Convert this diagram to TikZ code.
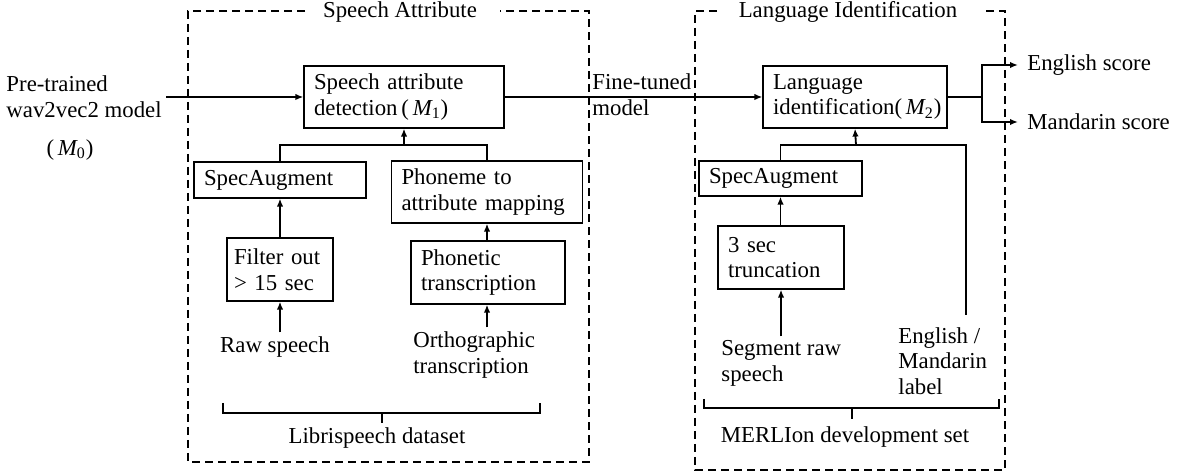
\documentclass[tikz,border=0pt]{standalone}
\usepackage{fontspec}
\setmainfont{Liberation Serif}
\usetikzlibrary{arrows.meta}
\begin{document}
\begin{tikzpicture}[x=0.5pt,y=-0.5pt,
  font=\fontsize{11.4}{12.8}\selectfont,
  box/.style={draw, line width=0.6pt, inner xsep=5pt, inner ysep=0pt, align=left},
  conn/.style={line width=0.9pt},
  arr/.style={conn, -{Latex[length=4pt,width=3.2pt]}},
  group/.style={line width=0.8pt, dash pattern=on 4pt off 2.5pt},
  lbl/.style={inner sep=2pt, align=left},
  brace/.style={line width=0.8pt}]
\useasboundingbox (0,0) rectangle (1177,474);

% ---- dashed groups with their titles
\draw[group] (305,11) -- (188,11) -- (188,462) -- (589,462) -- (589,11) -- (500,11);
\node (t1) at (400,12) {Speech Attribute};
\draw[group] (717,11) -- (695,11) -- (695,470) -- (1005,470) -- (1005,11) -- (982,11);
\node (t2) at (848,12) {Language Identification};

% ---- main models
\node[lbl, anchor=east] (pre) at (166,97) {Pre-trained\\wav2vec2 model};
\node[lbl] (m0) at (70,150) {(\,{\itshape M}\textsubscript{0})};
\node[box, minimum width=100pt, text width=90pt, minimum height=31pt] (m1) at (404,97)
  {Speech attribute\\detection\,(\,{\itshape M}\textsubscript{1})};
\node[lbl, anchor=west] (ft) at (588,95) {Fine-tuned\\model};
\node[box, minimum width=92pt, text width=82pt, minimum height=31pt] (m2) at (855,97)
  {Language\\identification(\,{\itshape M}\textsubscript{2})};
\node[lbl, anchor=west, inner xsep=4.5pt] (eng) at (1018,65) {English score};
\node[lbl, anchor=west, inner xsep=4.5pt] (man) at (1018,122) {Mandarin score};
\coordinate (sp) at (982,97);

\draw[arr] (pre.east) -- (m1.west);
\draw[arr] (m1.east) -- (m2.west);
\draw[conn] (m2.east) -- (sp);
\draw[arr] (sp) |- (eng.west);
\draw[arr] (sp) |- (man.west);

% ---- speech attribute branch
\node[box, minimum width=86pt, text width=76pt, minimum height=18pt] (sa1) at (280,180) {SpecAugment};
\node[box, minimum width=95.5pt, text width=85.5pt, minimum height=31pt] (ph) at (487,192)
  {Phoneme to\\attribute mapping};
\node[box, minimum width=53pt, text width=46pt, inner xsep=3.5pt, minimum height=31.5pt] (flt) at (280,269.5)
  {Filter out\\> 15 sec};
\node[box, minimum width=77pt, text width=67pt, minimum height=31.5pt] (pt) at (488,272.5)
  {Phonetic\\transcription};
\node[lbl] (raw) at (275,347) {Raw speech};
\node[lbl, anchor=west] (orth) at (409,355) {Orthographic\\transcription};
\coordinate (j1) at (404,145);

\draw[conn] (sa1.north) |- (j1) -| (ph.north);
\draw[arr] (j1) -- (m1.south);
\draw[arr] (flt.north) -- (sa1.south);
\draw[arr] (flt.south |- raw.north) -- (flt.south);
\draw[arr] (ph.south |- pt.north) -- (ph.south);
\draw[arr] (ph.south |- orth.north) -- (ph.south |- pt.south);

\draw[brace] (223,403) -- (223,413) -- (540,413) -- (540,403);
\draw[brace] (382,413) -- (382,423);
\node (libri) at (377,438) {Librispeech dataset};

% ---- language identification branch
\node[box, minimum width=81.5pt, text width=71.5pt, minimum height=17.5pt] (sa2) at (780.5,178.5) {SpecAugment};
\node[box, minimum width=63pt, text width=53pt, minimum height=31.5pt] (tr) at (781,257.5)
  {3 sec\\truncation};
\node[lbl, anchor=west] (seg) at (717,363.5) {Segment raw\\speech};
\node[lbl, anchor=west] (lab) at (894,361) {English /\\Mandarin\\label};
\coordinate (j2) at (856,145);
\coordinate (lx) at (966,145);
\coordinate (lend) at (966,315);

\draw[conn] (sa2.north) |- (lx) -- (lend);
\draw[arr] (j2) -- (m2.south);
\draw[arr] (sa2.south |- tr.north) -- (sa2.south);
\draw[arr] (tr.south |- seg.north) -- (tr.south);

\draw[brace] (704,399) -- (704,408) -- (999,408) -- (999,399);
\draw[brace] (852,408) -- (852,419);
\node (merl) at (845,437) {MERLIon development set};
\end{tikzpicture}
\end{document}
